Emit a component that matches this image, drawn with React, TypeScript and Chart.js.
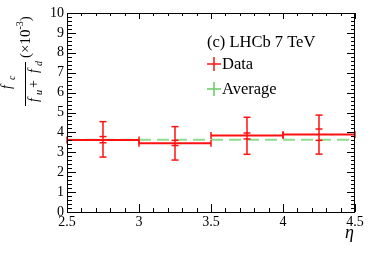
import React, { useEffect, useRef } from "react";
import { Chart, registerables } from "chart.js";

Chart.register(...registerables);

const binEdges = [2.5, 3.0, 3.5, 4.0, 4.5];
const binCenters = [2.75, 3.25, 3.75, 4.25];
const values = [3.62, 3.45, 3.84, 3.9];
const totalLow = [2.76, 2.61, 2.9, 2.91];
const totalHigh = [4.54, 4.29, 4.76, 4.87];
const statLow = [3.48, 3.34, 3.67, 3.6];
const statHigh = [3.79, 3.6, 3.97, 4.17];
const averageValue = 3.63;
const xTicks = [2.5, 3.0, 3.5, 4.0, 4.5];
const yTicks = [0, 1, 2, 3, 4, 5, 6, 7, 8, 9, 10];
const legendTitle = "(c) LHCb 7 TeV";
const legendLabels = ["Data", "Average"];

const RED = "#ff1010";
const GREEN = "#8edc8e";
const GREEN_LEG = "#66cc66";
const SERIF = "'Liberation Serif', 'DejaVu Serif', serif";

const decorPlugin = {
  id: "decor",
  afterDraw(chart: any) {
    const { ctx, chartArea } = chart;
    const { left, right, top, bottom } = chartArea;
    const xs = chart.scales.x;
    const ys = chart.scales.y;
    ctx.save();
    ctx.strokeStyle = "#000";
    ctx.lineWidth = 1;
    // frame
    ctx.strokeRect(left + 0.5, top + 0.5, right - left - 1, bottom - top);
    ctx.beginPath();
    // x ticks (bottom and top)
    for (let i = 0; i <= 20; i++) {
      const v = 2.5 + i * 0.1;
      const px = Math.round(xs.getPixelForValue(v)) + 0.5;
      const major = i % 5 === 0;
      const lb = major ? 8 : 4;
      const lt = major ? 6 : 3;
      ctx.moveTo(px, bottom);
      ctx.lineTo(px, bottom - lb);
      ctx.moveTo(px, top);
      ctx.lineTo(px, top + lt);
    }
    // y ticks (left and right)
    for (let i = 0; i <= 50; i++) {
      const v = i * 0.2;
      const py = Math.round(ys.getPixelForValue(v)) + 0.5;
      const major = i % 5 === 0;
      const ll = major ? 9 : 5;
      const lr = major ? 8 : 4;
      ctx.moveTo(left, py);
      ctx.lineTo(left + ll, py);
      ctx.moveTo(right, py);
      ctx.lineTo(right - lr, py);
    }
    ctx.stroke();

    // legend
    ctx.fillStyle = "#000";
    ctx.textBaseline = "alphabetic";
    ctx.textAlign = "left";
    ctx.font = `16.5px ${SERIF}`;
    ctx.fillText(legendTitle, 207, 47);
    const legendColors = [RED, GREEN_LEG];
    const legendY = [64, 89];
    legendLabels.forEach((lab, i) => {
      const cy = legendY[i];
      ctx.strokeStyle = legendColors[i];
      ctx.lineWidth = 1.5;
      ctx.beginPath();
      ctx.moveTo(207, cy);
      ctx.lineTo(221, cy);
      ctx.moveTo(214, cy - 7);
      ctx.lineTo(214, cy + 7);
      ctx.stroke();
      ctx.fillStyle = "#000";
      ctx.font = `16.5px ${SERIF}`;
      ctx.fillText(lab, 222, cy + 5);
    });

    // eta label
    ctx.font = `italic 18px ${SERIF}`;
    ctx.textAlign = "right";
    ctx.fillText("\u03b7", 354, 238);

    // y title (rotated): u = -screenY, v = screenX
    ctx.rotate(-Math.PI / 2);
    ctx.textAlign = "left";
    ctx.strokeStyle = "#000";
    ctx.lineWidth = 1;
    ctx.beginPath();
    ctx.moveTo(-106, 25.5);
    ctx.lineTo(-62, 25.5);
    ctx.stroke();
    // numerator f_c
    ctx.font = `italic 14px ${SERIF}`;
    ctx.fillText("f", -89, 11);
    ctx.font = `italic 10px ${SERIF}`;
    ctx.fillText("c", -80, 15);
    // denominator f_u + f_d
    ctx.font = `italic 14px ${SERIF}`;
    ctx.fillText("f", -102, 38);
    ctx.font = `italic 10px ${SERIF}`;
    ctx.fillText("u", -95, 42);
    ctx.font = `14px ${SERIF}`;
    ctx.fillText("+", -88, 38);
    ctx.font = `italic 14px ${SERIF}`;
    ctx.fillText("f", -73, 38);
    ctx.font = `italic 10px ${SERIF}`;
    ctx.fillText("d", -66, 42);
    // (x10^-3)
    ctx.font = `15px ${SERIF}`;
    let u = -58;
    const part1 = "(\u00d710";
    ctx.fillText(part1, u, 30);
    u += ctx.measureText(part1).width;
    ctx.font = `10px ${SERIF}`;
    const sup = "-3";
    ctx.fillText(sup, u, 23);
    u += ctx.measureText(sup).width;
    ctx.font = `15px ${SERIF}`;
    ctx.fillText(")", u, 30);
    ctx.restore();
  },
};

export default function App() {
  const canvasRef = useRef<HTMLCanvasElement | null>(null);

  useEffect(() => {
    document.body.style.margin = "0";
    const canvas = canvasRef.current;
    if (!canvas) return;

    const binLine: any[] = [];
    const totalBars: any[] = [];
    const statCaps: any[] = [];
    values.forEach((v, i) => {
      binLine.push({ x: binEdges[i], y: v }, { x: binEdges[i + 1], y: v }, { x: binEdges[i + 1], y: null });
      totalBars.push(
        { x: binCenters[i], y: totalLow[i] },
        { x: binCenters[i], y: totalHigh[i] },
        { x: binCenters[i], y: null }
      );
      statCaps.push({ x: binCenters[i], y: statLow[i] }, { x: binCenters[i], y: statHigh[i] });
    });

    const chart = new Chart(canvas, {
      type: "scatter",
      data: {
        datasets: [
          {
            label: "Data",
            data: binLine,
            showLine: true,
            spanGaps: false,
            borderColor: RED,
            borderWidth: 2,
            pointStyle: "line",
            rotation: 90,
            pointRadius: 3.5,
            pointBorderWidth: 1.5,
            pointBorderColor: RED,
            clip: false,
            order: 1,
          } as any,
          {
            label: "Total error",
            data: totalBars,
            showLine: true,
            spanGaps: false,
            borderColor: RED,
            borderWidth: 1.5,
            pointStyle: "line",
            rotation: 0,
            pointRadius: 3.5,
            pointBorderWidth: 1.5,
            pointBorderColor: RED,
            clip: false,
            order: 2,
          } as any,
          {
            label: "Stat error",
            data: statCaps,
            showLine: false,
            pointStyle: "line",
            rotation: 0,
            pointRadius: 3.5,
            pointBorderWidth: 1.5,
            pointBorderColor: RED,
            clip: false,
            order: 3,
          } as any,
          {
            label: "Average",
            data: [
              { x: binEdges[0], y: averageValue },
              { x: binEdges[binEdges.length - 1], y: averageValue },
            ],
            showLine: true,
            borderColor: GREEN,
            borderWidth: 2,
            borderDash: [12, 6],
            pointRadius: 0,
            order: 10,
          } as any,
        ],
      },
      options: {
        animation: false,
        responsive: false,
        maintainAspectRatio: false,
        layout: { padding: { left: 0, top: 13, right: 19, bottom: 0 } },
        plugins: { legend: { display: false }, tooltip: { enabled: false } },
        events: [],
        scales: {
          x: {
            type: "linear",
            min: 2.5,
            max: 4.5,
            afterBuildTicks: (s: any) => {
              s.ticks = xTicks.map((v) => ({ value: v }));
            },
            afterFit: (s: any) => {
              s.height = 41;
            },
            ticks: {
              color: "#000",
              padding: 2,
              maxRotation: 0,
              font: { family: SERIF, size: 14 },
              callback: (v: any) => String(Number(v)),
            },
            grid: { display: false, drawTicks: false },
            border: { display: false },
          },
          y: {
            type: "linear",
            min: 0,
            max: 10,
            afterBuildTicks: (s: any) => {
              s.ticks = yTicks.map((v) => ({ value: v }));
            },
            afterFit: (s: any) => {
              s.width = 67;
            },
            ticks: {
              color: "#000",
              padding: 3,
              font: { family: SERIF, size: 14 },
              callback: (v: any) => String(Number(v)),
            },
            grid: { display: false, drawTicks: false },
            border: { display: false },
          },
        },
      } as any,
      plugins: [decorPlugin],
    });
    return () => chart.destroy();
  }, []);

  return (
    <div style={{ position: "absolute", left: 0, top: 0, width: 374, height: 253, background: "#fff" }}>
      <canvas ref={canvasRef} width={374} height={253} style={{ width: 374, height: 253, display: "block" }} />
    </div>
  );
}
